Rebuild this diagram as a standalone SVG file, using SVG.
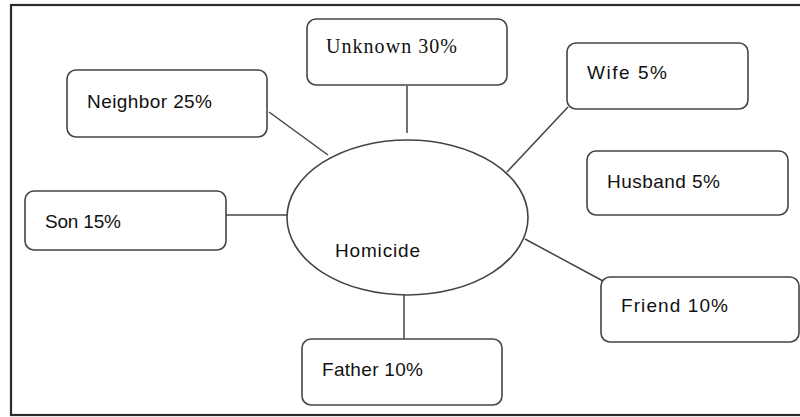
<svg xmlns="http://www.w3.org/2000/svg" width="800" height="417" viewBox="0 0 800 417">
<style>
.frame{fill:none;stroke:#2b2b2b;stroke-width:2.2}
.box{fill:#fff;stroke:#444;stroke-width:1.6}
.ell{fill:#fff;stroke:#444;stroke-width:1.6}
.conn line{stroke:#444;stroke-width:1.5}
.t{font-family:"Liberation Sans",Arial,sans-serif;font-size:19px;fill:#111}
.s{font-family:"Liberation Serif","Times New Roman",serif;font-size:20px;fill:#111}
</style>
<rect width="800" height="417" fill="#fff"/>
<rect class="frame" x="11" y="5" width="820" height="410"/>
<g id="connectors" class="conn">
<line x1="269" y1="112" x2="328" y2="155"/>
<line x1="407" y1="86" x2="407" y2="133"/>
<line x1="568" y1="107" x2="507" y2="172"/>
<line x1="226" y1="215" x2="287" y2="215"/>
<line x1="525" y1="239" x2="603" y2="281"/>
<line x1="404" y1="295" x2="404" y2="339"/>
</g>
<g id="homicide">
<ellipse class="ell" cx="407.5" cy="217.5" rx="120.5" ry="77.5"/>
<text class="t" x="335" y="257" textLength="85">Homicide</text>
</g>
<g id="unknown">
<rect class="box" x="307" y="19" width="200" height="66" rx="9"/>
<text class="s" x="326" y="53" textLength="131">Unknown 30%</text>
</g>
<g id="neighbor">
<rect class="box" x="67" y="70" width="200" height="67" rx="9"/>
<text class="t" x="87" y="108" textLength="125">Neighbor 25%</text>
</g>
<g id="wife">
<rect class="box" x="567" y="43" width="181" height="66" rx="9"/>
<text class="t" x="587" y="79" textLength="80">Wife 5%</text>
</g>
<g id="husband">
<rect class="box" x="587" y="151" width="201" height="64" rx="9"/>
<text class="t" x="607" y="188" textLength="113">Husband 5%</text>
</g>
<g id="son">
<rect class="box" x="25" y="191" width="201" height="59" rx="9"/>
<text class="t" x="45" y="228" textLength="76">Son 15%</text>
</g>
<g id="friend">
<rect class="box" x="601" y="277" width="198" height="65" rx="9"/>
<text class="t" x="621" y="312" textLength="107">Friend 10%</text>
</g>
<g id="father">
<rect class="box" x="302" y="339" width="200" height="66" rx="9"/>
<text class="t" x="322" y="376" textLength="101">Father 10%</text>
</g>
</svg>
